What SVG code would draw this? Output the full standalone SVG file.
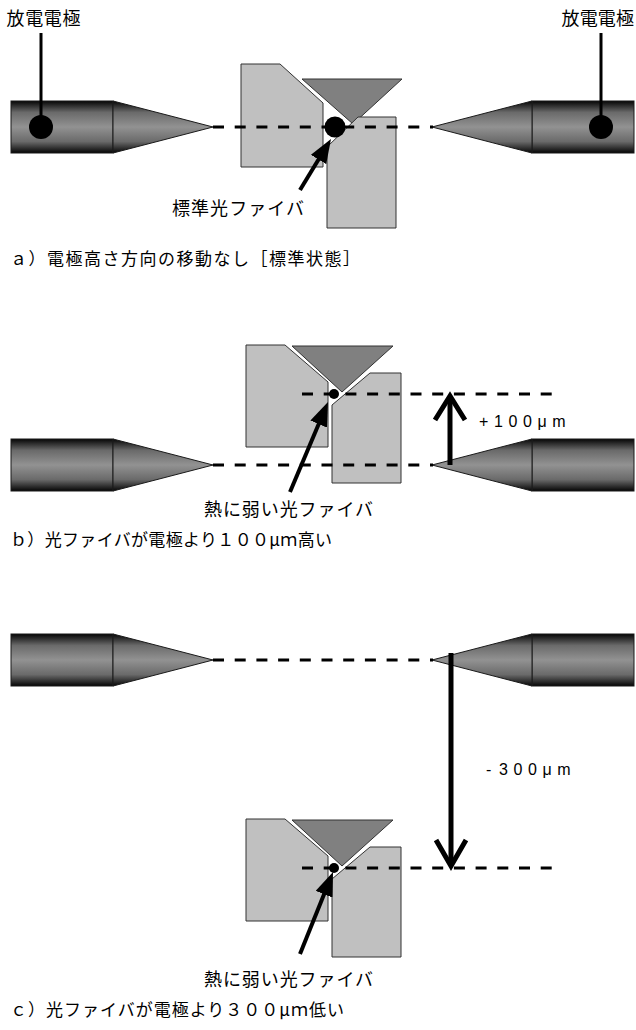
<svg xmlns="http://www.w3.org/2000/svg" width="636" height="1030" viewBox="0 0 636 1030">
  <style>
    .lbl { font-family: "Noto Sans CJK JP", "Noto Sans CJK SC", sans-serif; font-size: 18px; fill: #000; }
    .cap { font-family: "Noto Sans CJK JP", "Noto Sans CJK SC", sans-serif; font-size: 17px; fill: #000; }
    .num { font-family: "Liberation Sans", Arial, sans-serif; font-size: 16px; letter-spacing: 5.6px; fill: #000; }
    .blk { fill: #c0c0c0; stroke: #333; stroke-width: 1; }
    .wedge { fill: #808080; stroke: #333; stroke-width: 1; }
    .body { fill: url(#metal); stroke: #1a1a1a; stroke-width: 1; }
    .axis { fill: none; stroke: #000; stroke-width: 3; stroke-dasharray: 11 10.7; }
    .pin { fill: none; stroke: #000; stroke-width: 3; }
    .lead { fill: none; stroke: #000; stroke-width: 4; marker-end: url(#head); }
    .move { fill: none; stroke: #000; stroke-width: 5; stroke-linejoin: miter; }
  </style>
  <defs>
    <linearGradient id="metal" x1="0" y1="0" x2="0" y2="1">
      <stop offset="0" stop-color="#050505"/>
      <stop offset="0.22" stop-color="#6a6a6a"/>
      <stop offset="0.5" stop-color="#929292"/>
      <stop offset="0.78" stop-color="#6a6a6a"/>
      <stop offset="1" stop-color="#050505"/>
    </linearGradient>
    <marker id="head" viewBox="0 0 24 18" refX="14" refY="9" markerWidth="24" markerHeight="18" markerUnits="userSpaceOnUse" orient="auto">
      <path d="M0,0 L24,9 L0,18 z" fill="#000"/>
    </marker>
    <!-- electrode: cylinder + conical tip, tip at (213,26) -->
    <g id="electrode">
      <rect class="body" x="11" y="0" width="102" height="52"/>
      <polygon class="body" points="113,0 213,26 113,52"/>
    </g>
    <!-- fiber holder: two V-blocks and the pressing wedge (panels b, c) -->
    <g id="holder">
      <polygon class="blk" points="246,345 285,345 328,382 328,447 246,447"/>
      <polygon class="wedge" points="292,346 393,346 342,392"/>
      <polygon class="blk" points="332,405 370,373 401,373 401,483 332,483"/>
      <circle cx="334" cy="394" r="5" fill="#000"/>
    </g>
  </defs>

  <!-- ===== a) reference position ===== -->
  <g id="a-electrode-left">
    <use href="#electrode" transform="translate(0,101)"/>
    <circle cx="41" cy="127" r="12" fill="#000"/>
  </g>
  <g id="a-electrode-right">
    <use href="#electrode" transform="translate(645,101) scale(-1,1)"/>
    <circle cx="601" cy="127" r="12" fill="#000"/>
  </g>
  <g id="a-holder">
    <polygon class="blk" points="241,64 280,64 323,103 323,167 241,167"/>
    <polygon class="wedge" points="302,79 402,79 353,124"/>
    <polygon class="blk" points="327,147 358,117 396,117 396,228 327,228"/>
    <circle cx="335" cy="127" r="10.5" fill="#000"/>
  </g>
  <g id="a-connectors">
    <line class="pin" x1="41" y1="33" x2="41" y2="127"/>
    <line class="pin" x1="601" y1="33" x2="601" y2="127"/>
    <line class="axis" x1="213" y1="127" x2="433" y2="127"/>
    <line class="lead" x1="300" y1="190" x2="325.8" y2="147.5"/>
  </g>
  <g id="a-labels">
    <text class="lbl" x="6.5" y="25" textLength="74" lengthAdjust="spacing">放電電極</text>
    <text class="lbl" x="561.5" y="25" textLength="72.5" lengthAdjust="spacing">放電電極</text>
    <text class="lbl" x="172" y="215" textLength="132" lengthAdjust="spacing">標準光ファイバ</text>
    <text class="cap" x="10" y="264.5" textLength="350" lengthAdjust="spacing">ａ）電極高さ方向の移動なし［標準状態］</text>
  </g>

  <!-- ===== b) fiber 100 µm above electrodes ===== -->
  <g id="b-electrode-left">
    <use href="#electrode" transform="translate(0,439)"/>
  </g>
  <g id="b-electrode-right">
    <use href="#electrode" transform="translate(645,439) scale(-1,1)"/>
  </g>
  <g id="b-holder">
    <use href="#holder"/>
  </g>
  <g id="b-connectors">
    <line class="axis" x1="213" y1="465" x2="433" y2="465"/>
    <line class="axis" x1="302" y1="394" x2="560" y2="394"/>
    <line class="move" x1="450" y1="465" x2="450" y2="397"/>
    <polyline class="move" points="435,420 450,396 465,420"/>
    <line class="lead" x1="290" y1="492" x2="324.1" y2="411.2"/>
  </g>
  <g id="b-labels">
    <text class="num" x="479" y="427">+100μm</text>
    <text class="lbl" x="204" y="516" textLength="169" lengthAdjust="spacing">熱に弱い光ファイバ</text>
    <text class="cap" x="10" y="546" textLength="322" lengthAdjust="spacing">ｂ）光ファイバが電極より１００μｍ高い</text>
  </g>

  <!-- ===== c) fiber 300 µm below electrodes ===== -->
  <g id="c-electrode-left">
    <use href="#electrode" transform="translate(0,634)"/>
  </g>
  <g id="c-electrode-right">
    <use href="#electrode" transform="translate(645,634) scale(-1,1)"/>
  </g>
  <g id="c-holder">
    <use href="#holder" transform="translate(0,474)"/>
  </g>
  <g id="c-connectors">
    <line class="axis" x1="213" y1="660" x2="433" y2="660"/>
    <line class="axis" x1="302" y1="868" x2="560" y2="868"/>
    <line class="move" x1="451" y1="653" x2="451" y2="865"/>
    <polyline class="move" points="436,840 451,866 466,840"/>
    <line class="lead" x1="300" y1="954" x2="329.3" y2="881.3"/>
  </g>
  <g id="c-labels">
    <text class="num" x="486" y="775"><tspan style="letter-spacing:0">- </tspan><tspan x="499">300μm</tspan></text>
    <text class="lbl" x="204" y="986" textLength="169" lengthAdjust="spacing">熱に弱い光ファイバ</text>
    <text class="cap" x="10" y="1016" textLength="334" lengthAdjust="spacing">ｃ）光ファイバが電極より３００μｍ低い</text>
  </g>
</svg>
